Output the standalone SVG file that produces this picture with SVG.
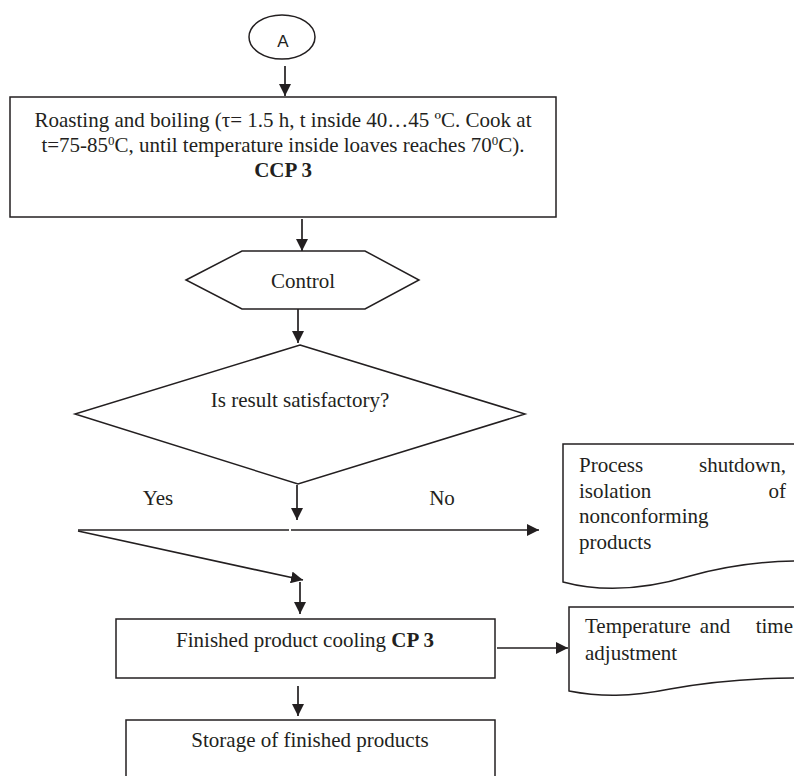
<svg xmlns="http://www.w3.org/2000/svg" width="794" height="776" viewBox="0 0 794 776">
<style>
.s{fill:#fff;stroke:#231f20;stroke-width:1.5}
.t{font-family:"Liberation Serif","Times New Roman",serif;font-size:21px;fill:#231f20}
.c{text-anchor:middle}
.e{text-anchor:end}
.b{font-weight:bold}
.sup{font-size:13px}
.ln{fill:none;stroke:#231f20;stroke-width:1.7}
.ar{marker-end:url(#ah)}
</style>
<defs>
<marker id="ah" markerUnits="userSpaceOnUse" markerWidth="13" markerHeight="12" refX="12" refY="6" orient="auto">
<path d="M0,0 L12,6 L0,12 z" fill="#231f20"/>
</marker>
</defs>
<rect width="794" height="776" fill="#fff"/>
<g id="connectors">
<line class="ln ar" x1="285" y1="66" x2="285" y2="96"/>
<line class="ln ar" x1="302" y1="219" x2="302" y2="251"/>
<line class="ln ar" x1="298" y1="309" x2="298" y2="343"/>
<line class="ln ar" x1="297" y1="485" x2="297" y2="520"/>
<line class="ln" x1="78" y1="530" x2="289" y2="530"/>
<line class="ln ar" x1="291" y1="530" x2="539" y2="530"/>
<line class="ln ar" x1="78" y1="531" x2="303" y2="580"/>
<line class="ln ar" x1="300" y1="582" x2="300" y2="614"/>
<line class="ln ar" x1="497" y1="648" x2="568" y2="648"/>
<line class="ln ar" x1="298" y1="686" x2="298" y2="716"/>
<text class="t c" x="158" y="505">Yes</text>
<text class="t c" x="442" y="505">No</text>
</g>
<g id="nodeA">
<ellipse class="s" cx="282" cy="37" rx="33" ry="22"/>
<text x="283" y="47" text-anchor="middle" font-family="Liberation Sans, Arial, sans-serif" font-size="17" fill="#231f20">A</text>
</g>
<g id="roasting">
<rect class="s" x="10" y="97" width="546" height="120"/>
<text class="t c" x="283" y="127">Roasting and boiling (τ= 1.5 h, t inside 40…45 ºC. Cook at</text>
<text class="t c" x="283" y="152">t=75-85<tspan class="sup" baseline-shift="super">0</tspan>C, until temperature inside loaves reaches 70<tspan class="sup" baseline-shift="super">0</tspan>C).</text>
<text class="t c b" x="283" y="177">CCP 3</text>
</g>
<g id="control">
<polygon class="s" points="186,280 242,251 365,251 419,280 365,309 242,309"/>
<text class="t c" x="303" y="288">Control</text>
</g>
<g id="decision">
<polygon class="s" points="300,345 525,414 298,484 75,414"/>
<text class="t c" x="300" y="407">Is result satisfactory?</text>
</g>
<g id="shutdown">
<path class="s" d="M800,444 L563,444 L563,582 C600,592 640,591 690,576 C730,565 770,561 800,561"/>
<text class="t" x="579" y="472">Process</text>
<text class="t e" x="786" y="472">shutdown,</text>
<text class="t" x="579" y="498">isolation</text>
<text class="t e" x="786" y="498">of</text>
<text class="t" x="579" y="523">nonconforming</text>
<text class="t" x="579" y="549">products</text>
</g>
<g id="cooling">
<rect class="s" x="116" y="619" width="379" height="59"/>
<text class="t c" x="305" y="647">Finished product cooling <tspan class="b">CP 3</tspan></text>
</g>
<g id="adjustment">
<path class="s" d="M800,607 L569,607 L569,691 C600,697 630,697 670,689 C720,680 760,678 800,678"/>
<text class="t" x="585" y="633">Temperature</text>
<text class="t c" x="715" y="633">and</text>
<text class="t e" x="793" y="633">time</text>
<text class="t" x="585" y="660">adjustment</text>
</g>
<g id="storage">
<rect class="s" x="126" y="720" width="369" height="70"/>
<text class="t c" x="310" y="747">Storage of finished products</text>
</g>
</svg>
